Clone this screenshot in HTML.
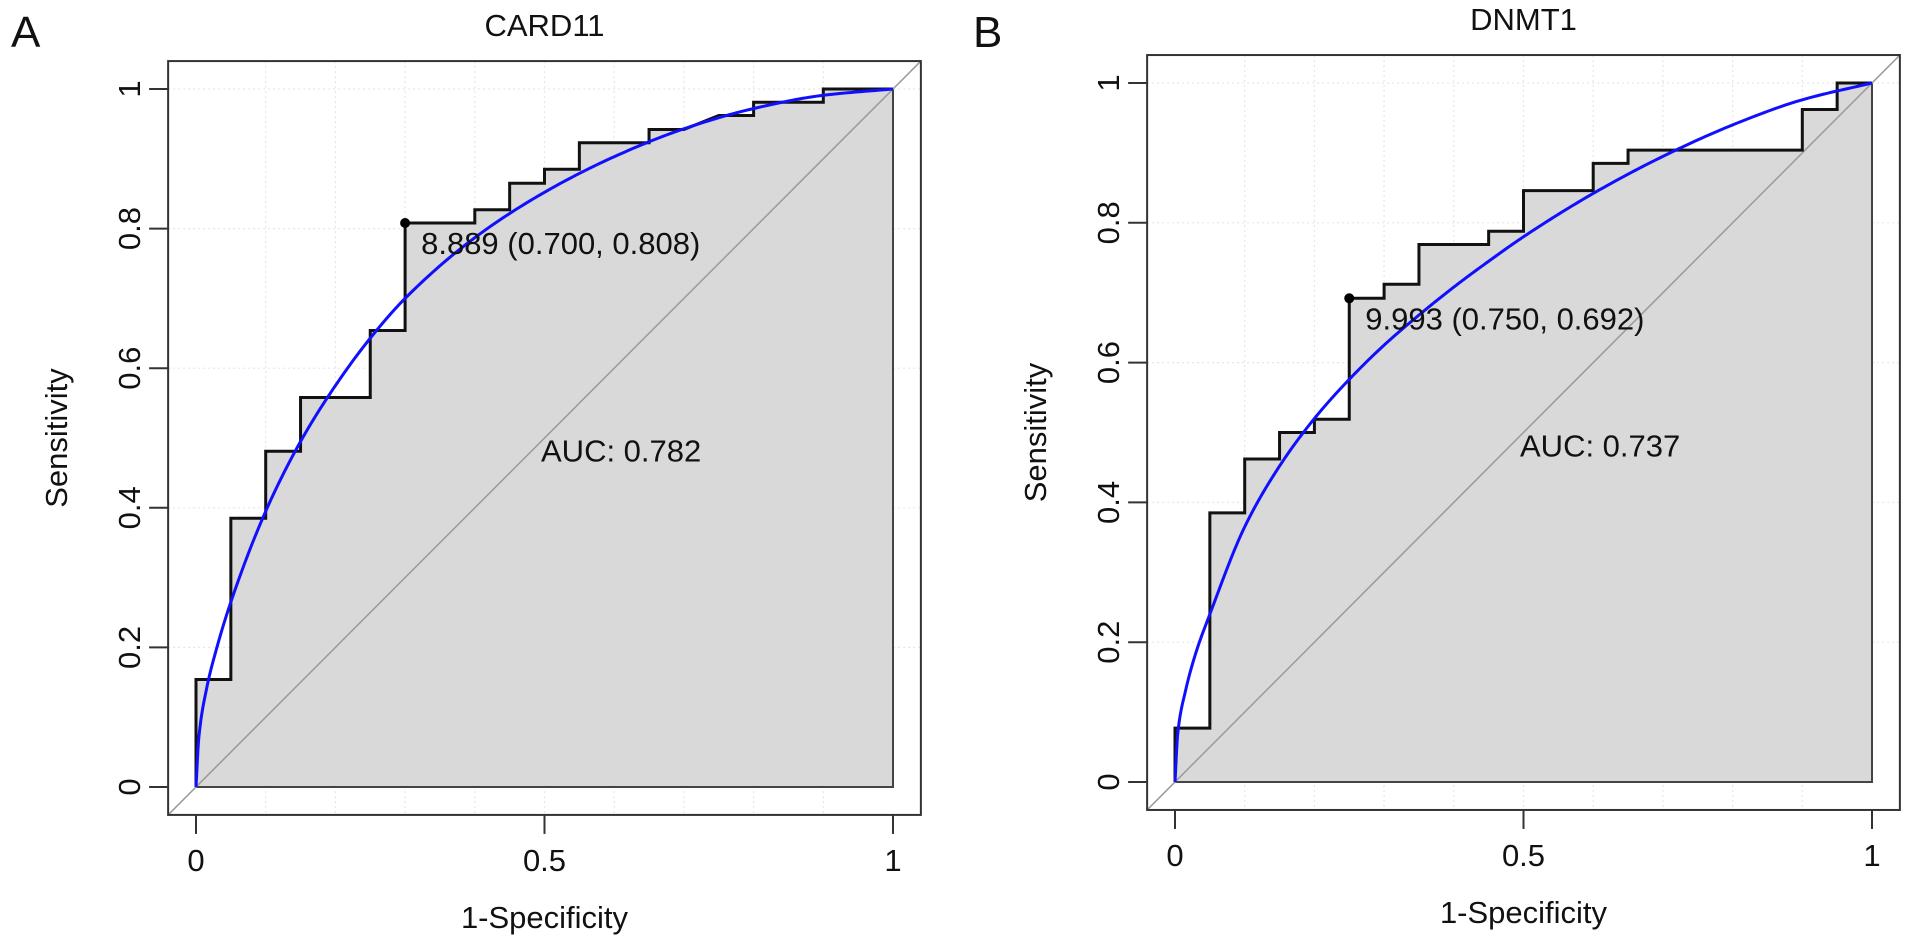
<!DOCTYPE html>
<html><head><meta charset="utf-8">
<style>
html,body{margin:0;padding:0;background:#fff;}
svg{display:block;font-family:"Liberation Sans",Arial,sans-serif;}
</style></head>
<body>
<svg id="fig" width="1913" height="945" viewBox="0 0 1913 945" xmlns="http://www.w3.org/2000/svg"></svg>
<script>
// ---- Panel A data (CARD11) ----
const aFpr = [0,0,0.05,0.05,0.10,0.10,0.15,0.15,0.25,0.25,0.30,0.30,0.40,0.40,0.45,0.45,0.50,0.50,0.55,0.55,0.65,0.65,0.70,0.75,0.80,0.80,0.90,0.90,1];
const aTpr = [0,0.154,0.154,0.385,0.385,0.481,0.481,0.558,0.558,0.654,0.654,0.808,0.808,0.827,0.827,0.865,0.865,0.885,0.885,0.923,0.923,0.942,0.942,0.962,0.962,0.981,0.981,1,1];
const aSmoothX = [0,0.004,0.015,0.03,0.05,0.10,0.15,0.20,0.25,0.30,0.40,0.50,0.60,0.70,0.80,0.90,1];
const aSmoothY = [0,0.07,0.14,0.20,0.265,0.395,0.495,0.575,0.643,0.70,0.787,0.852,0.903,0.943,0.972,0.991,1];
const aThreshold = {x:0.30, y:0.808, label:"8.889 (0.700, 0.808)"};
const aAuc = "AUC: 0.782";
// ---- Panel B data (DNMT1) ----
const bFpr = [0,0,0.05,0.05,0.10,0.10,0.15,0.15,0.20,0.20,0.25,0.25,0.30,0.30,0.35,0.35,0.45,0.45,0.50,0.50,0.60,0.60,0.65,0.65,0.90,0.90,0.95,0.95,1];
const bTpr = [0,0.077,0.077,0.385,0.385,0.462,0.462,0.500,0.500,0.519,0.519,0.692,0.692,0.712,0.712,0.769,0.769,0.788,0.788,0.846,0.846,0.885,0.885,0.904,0.904,0.962,0.962,1,1];
const bSmoothX = [0,0.004,0.015,0.03,0.05,0.10,0.15,0.20,0.25,0.30,0.35,0.40,0.45,0.50,0.60,0.70,0.80,0.90,1];
const bSmoothY = [0,0.07,0.13,0.185,0.24,0.365,0.452,0.52,0.576,0.625,0.668,0.708,0.745,0.78,0.842,0.895,0.94,0.976,1];
const bThreshold = {x:0.25, y:0.692, label:"9.993 (0.750, 0.692)"};
const bAuc = "AUC: 0.737";
const xTicks = [0,0.5,1];
const xTickLabels = ["0","0.5","1"];
const yTicks = [0,0.2,0.4,0.6,0.8,1];
const yTickLabels = ["0","0.2","0.4","0.6","0.8","1"];

const NS = "http://www.w3.org/2000/svg";
const svg = document.getElementById('fig');
function mk(tag, attrs, parent){
  const e = document.createElementNS(NS, tag);
  for (const k in attrs) e.setAttribute(k, attrs[k]);
  (parent||svg).appendChild(e);
  return e;
}
// monotone cubic (Fritsch-Carlson) in data space, sampled densely
function monoSample(xs, ys){
  const n = xs.length, d = [], m = new Array(n);
  for (let i=0;i<n-1;i++) d.push((ys[i+1]-ys[i])/(xs[i+1]-xs[i]));
  m[0]=d[0]; m[n-1]=d[n-2];
  for (let i=1;i<n-1;i++){
    if (d[i-1]*d[i]<=0) m[i]=0;
    else { const w1=2*(xs[i+1]-xs[i])+(xs[i]-xs[i-1]), w2=(xs[i+1]-xs[i])+2*(xs[i]-xs[i-1]);
      m[i]=(w1+w2)/(w1/d[i-1]+w2/d[i]); }
  }
  const out=[];
  for (let i=0;i<n-1;i++){
    const h=xs[i+1]-xs[i], steps=20;
    for (let s=0;s<steps;s++){
      const t=s/steps, t2=t*t, t3=t2*t;
      const y=(2*t3-3*t2+1)*ys[i]+(t3-2*t2+t)*h*m[i]+(-2*t3+3*t2)*ys[i+1]+(t3-t2)*h*m[i+1];
      out.push([xs[i]+t*h, y]);
    }
  }
  out.push([xs[n-1], ys[n-1]]);
  return out;
}
function drawPanel(p, fpr, tpr, sx, sy, thr, aucText){
  const W = p.x1-p.x0, H = p.y0-p.y1;
  const X = v => p.x0 + v*W;
  const Y = v => p.y0 - v*H;
  const g = mk('g', {});
  
  
  const L = X(-0.04), R = X(1.04), T = Y(1.04), B = Y(-0.04);
  for (let i=1;i<10;i++){
    const gl = mk('line',{x1:X(i/10),x2:X(i/10),y1:T,y2:B,stroke:'#e6e6e6','stroke-width':1.2,'stroke-dasharray':'2,3'},g);
    
    
  }
  for (let i=1;i<=5;i++){
    const gl = mk('line',{x1:L,x2:R,y1:Y(i/5),y2:Y(i/5),stroke:'#e6e6e6','stroke-width':1.2,'stroke-dasharray':'2,3'},g);
    
    
  }
  let pts = fpr.map((f,i)=>X(f)+","+Y(tpr[i]));
  pts.push(X(1)+","+Y(0));
  const poly = mk('polygon',{points:pts.join(' '),fill:'#d9d9d9',stroke:'#444','stroke-width':2},g);
  
  
  const diag = mk('line',{x1:L,y1:B,x2:R,y2:T,stroke:'#9a9a9a','stroke-width':1.5},g);
  
  
  const step = mk('polyline',{points:fpr.map((f,i)=>X(f)+","+Y(tpr[i])).join(' '),fill:'none',stroke:'#111','stroke-width':3},g);
  
  
  const sm = mk('polyline',{points:monoSample(sx,sy).map(q=>X(q[0])+","+Y(q[1])).join(' '),fill:'none',stroke:'#1010ff','stroke-width':3,'stroke-linejoin':'round'},g);
  
  
  const dot = mk('circle',{cx:X(thr.x),cy:Y(thr.y),r:5,fill:'#000'},g);
  
  
  const tl = mk('text',{x:X(thr.x)+16,y:Y(thr.y)+31,'font-size':31,fill:'#111'},g);
  tl.textContent = thr.label;
  
  
  const al = mk('text',{x:X(0.495),y:Y(0.466),'font-size':31,fill:'#111'},g);
  al.textContent = aucText;
  
  
  const box = mk('rect',{x:L,y:T,width:R-L,height:B-T,fill:'none',stroke:'#333','stroke-width':2},g);
  
  
  xTicks.forEach((v,i)=>{
    const t = mk('line',{x1:X(v),x2:X(v),y1:B,y2:B+19,stroke:'#333','stroke-width':2},g);
    
    
    const lb = mk('text',{x:X(v),y:B+56,'font-size':31,'text-anchor':'middle',fill:'#111'},g);
    lb.textContent = xTickLabels[i];
    
    
  });
  yTicks.forEach((v,i)=>{
    const t = mk('line',{x1:L,x2:L-19,y1:Y(v),y2:Y(v),stroke:'#333','stroke-width':2},g);
    
    
    const lx = L-28;
    const lb = mk('text',{x:lx,y:Y(v),'font-size':31,'text-anchor':'middle',fill:'#111',transform:'rotate(-90 '+lx+' '+Y(v)+')'},g);
    lb.textContent = yTickLabels[i];
    
    
  });
  const xt = mk('text',{x:(L+R)/2,y:B+113,'font-size':31,'text-anchor':'middle',fill:'#111'},g);
  xt.textContent = '1-Specificity';
  
  
  const yx = L-101, yy = (T+B)/2;
  const yt = mk('text',{x:yx,y:yy,'font-size':31,'text-anchor':'middle',fill:'#111',transform:'rotate(-90 '+yx+' '+yy+')'},g);
  yt.textContent = 'Sensitivity';
  
  
  const ti = mk('text',{x:(L+R)/2,y:T-25,'font-size':31,'text-anchor':'middle',fill:'#111'},g);
  ti.textContent = p.title;
  
  
  const le = mk('text',{x:p.letterX,y:47,'font-size':44,fill:'#111'},g);
  le.textContent = p.letter;
  
  
}
drawPanel({id:'card11',title:'CARD11',letter:'A',letterX:11,x0:196,x1:893,y0:787,y1:89}, aFpr, aTpr, aSmoothX, aSmoothY, aThreshold, aAuc);
drawPanel({id:'dnmt1',title:'DNMT1',letter:'B',letterX:973,x0:1175,x1:1872,y0:782,y1:83}, bFpr, bTpr, bSmoothX, bSmoothY, bThreshold, bAuc);
</script>
</body></html>
